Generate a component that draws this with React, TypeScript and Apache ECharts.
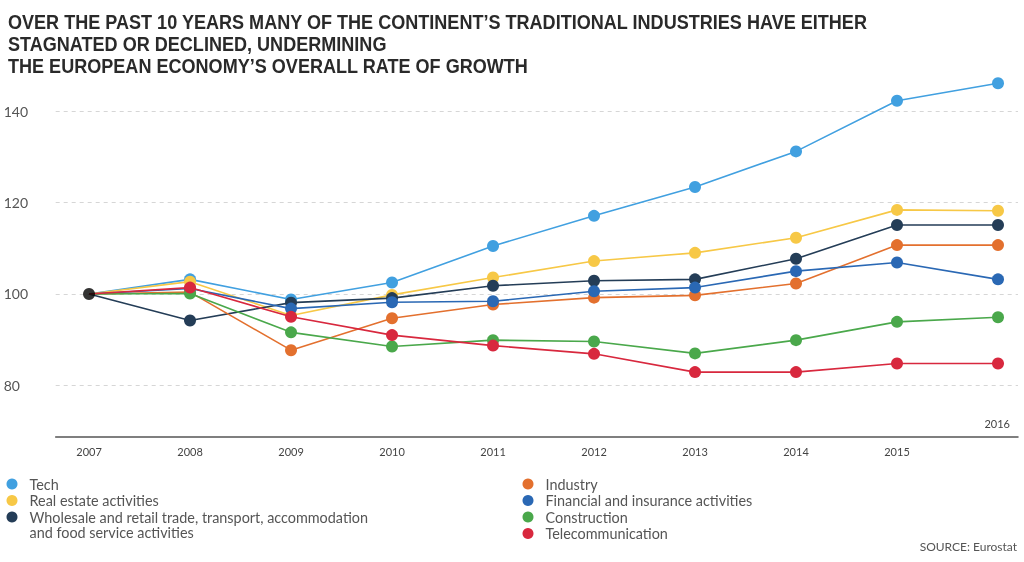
import React, { useEffect, useRef } from "react";
import * as echarts from "echarts";

const years = [2007, 2008, 2009, 2010, 2011, 2012, 2013, 2014, 2015, 2016];
const labelYears = [2007, 2008, 2009, 2010, 2011, 2012, 2013, 2014, 2015];
const yTicks = [80, 100, 120, 140];

const titleLines = [
  "OVER THE PAST 10 YEARS MANY OF THE CONTINENT’S TRADITIONAL INDUSTRIES HAVE EITHER",
  "STAGNATED OR DECLINED, UNDERMINING",
  "THE EUROPEAN ECONOMY’S OVERALL RATE OF GROWTH",
];

const seriesNames = [
  "Tech",
  "Real estate activities",
  "Wholesale and retail trade, transport, accommodation",
  "Industry",
  "Financial and insurance activities",
  "Construction",
  "Telecommunication",
];

const tech = [100, 103.2, 98.8, 102.5, 110.5, 117.1, 123.4, 131.2, 142.3, 146.1];
const realEstate = [100, 102.7, 95.3, 99.8, 103.6, 107.2, 109.0, 112.3, 118.4, 118.2];
const wholesale = [100, 94.2, 98.1, 99.1, 101.8, 102.9, 103.2, 107.7, 115.1, 115.1];
const industry = [100, 100.4, 87.7, 94.7, 97.7, 99.2, 99.7, 102.3, 110.7, 110.7];
const financial = [100, 101.2, 96.8, 98.2, 98.4, 100.6, 101.4, 105.0, 106.9, 103.2];
const construction = [100, 100.1, 91.6, 88.5, 89.9, 89.6, 87.0, 89.9, 93.9, 94.9];
const telecom = [100, 101.4, 95.0, 91.0, 88.7, 86.9, 82.9, 82.9, 84.8, 84.8];

const allValues = [tech, realEstate, wholesale, industry, financial, construction, telecom];
const colors = ["#41A0E0", "#F7C846", "#243D57", "#E3702E", "#2A68B4", "#4AA84B", "#D8283E"];

const baseYear = 2007;
const baseValue = 100;

export default function App() {
  const ref = useRef<HTMLDivElement>(null);
  useEffect(() => {
    const chart = echarts.init(ref.current as HTMLDivElement, null, { renderer: "svg" });
    const labelFont = "Lato, 'Open Sans', sans-serif";
    const series: any[] = allValues.map((vals, i) => ({
      name: seriesNames[i],
      type: "line",
      data: years.map((y, j) =>
        y === baseYear ? { value: [y, vals[j]], symbol: "none" } : [y, vals[j]]
      ),
      symbol: "circle",
      symbolSize: 12,
      lineStyle: { color: colors[i], width: 1.6 },
      itemStyle: { color: colors[i] },
      z: 2 + i,
    }));
    series.push({
      name: "base",
      type: "scatter",
      data: [[baseYear, baseValue]],
      symbolSize: 12,
      itemStyle: { color: "#000" },
      z: 20,
    });
    const legendText = {
      fontFamily: labelFont,
      fontSize: 14.4,
      color: "#555",
      lineHeight: 16,
      padding: [0, 0, 0, 7],
    };
    const option: any = {
      animation: false,
      grid: { left: 55.7, right: 6, top: 65.5, bottom: 125 },
      xAxis: {
        type: "value",
        min: 2006.67,
        max: 2016.198,
        axisLine: { show: true, lineStyle: { color: "#555", width: 1.5 } },
        axisTick: { show: false },
        splitLine: { show: false },
        axisLabel: {
          customValues: labelYears,
          margin: 9,
          fontFamily: labelFont,
          fontSize: 11,
          color: "#444",
          formatter: (v: number) => String(v),
        },
      },
      yAxis: {
        type: "value",
        min: 68.7,
        max: 150,
        axisLine: { show: false },
        axisTick: { show: false, customValues: yTicks },
        splitLine: { show: true, lineStyle: { color: "#d6d6d6", type: [4, 4], width: 1 } },
        axisLabel: {
          customValues: yTicks,
          align: "left",
          margin: 52,
          fontFamily: labelFont,
          fontSize: 14,
          color: "#555",
        },
      },
      legend: [
        {
          data: seriesNames.slice(0, 3),
          orient: "vertical",
          left: 6.5,
          top: 476,
          padding: 0,
          icon: "circle",
          itemWidth: 11,
          itemHeight: 11,
          itemGap: 0.5,
          selectedMode: false,
          textStyle: legendText,
        },
        {
          data: seriesNames.slice(3),
          orient: "vertical",
          left: 522.5,
          top: 476,
          padding: 0,
          icon: "circle",
          itemWidth: 11,
          itemHeight: 11,
          itemGap: 0.5,
          selectedMode: false,
          textStyle: legendText,
        },
      ],
      graphic: [
        {
          type: "text",
          x: 8,
          y: 11,
          scaleX: 0.903,
          style: {
            text: titleLines.join("\n"),
            fontFamily: "'Liberation Sans', Arial, sans-serif",
            fontWeight: "bold",
            fontSize: 20,
            lineHeight: 22,
            fill: "#2a2a2a",
            verticalAlign: "top",
          },
        },
        {
          type: "text",
          left: 29.5,
          top: 525,
          style: {
            text: "and food service activities",
            font: `14.4px ${labelFont}`,
            fill: "#555",
          },
        },
        {
          type: "text",
          right: 14,
          top: 418,
          style: { text: "2016", font: `11px ${labelFont}`, fill: "#444" },
        },
        {
          type: "text",
          right: 7,
          top: 540,
          style: { text: "SOURCE: Eurostat", font: `12px ${labelFont}`, fill: "#555" },
        },
      ],
      series,
    };
    chart.setOption(option);
    return () => chart.dispose();
  }, []);
  return (
    <div
      ref={ref}
      style={{ position: "fixed", left: 0, top: 0, width: 1024, height: 562 }}
    />
  );
}
